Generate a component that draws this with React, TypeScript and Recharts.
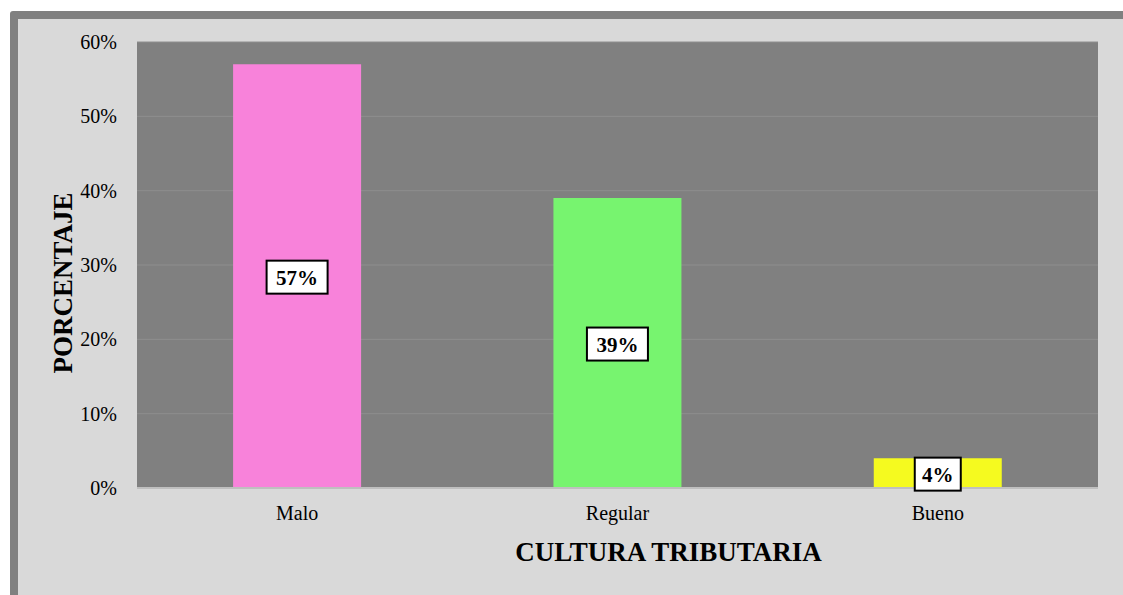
import { Bar, BarChart, CartesianGrid, Cell, LabelList, XAxis, YAxis, Label } from "recharts";

// Cultura tributaria: porcentaje por nivel
const categories = ["Malo", "Regular", "Bueno"];
const percentages = [57, 39, 4];
const barColors = ["#f882da", "#77f46f", "#f5fa1f"];
const yTicks = [0, 10, 20, 30, 40, 50, 60];

const data = categories.map((name, i) => ({ name, value: percentages[i] }));

const FONT = '"Liberation Serif", "Times New Roman", serif';

function BoxLabel(props: any) {
  const { x, y, width, height, value } = props;
  const cx = x + width / 2;
  const cy = y + height / 2;
  const text = `${value}%`;
  const w = value >= 10 ? 61 : 46;
  const h = 33;
  return (
    <g>
      <rect x={cx - w / 2} y={cy - h / 2 + 1} width={w} height={h} fill="#ffffff" stroke="#000" strokeWidth={2} />
      <text
        x={cx}
        y={cy + 2}
        textAnchor="middle"
        dominantBaseline="central"
        fontFamily={FONT}
        fontWeight="bold"
        fontSize={21}
        fill="#000"
      >
        {text}
      </text>
    </g>
  );
}

function XTitle(props: any) {
  const vb = props.viewBox;
  return (
    <text
      x={vb.x + vb.width / 2 + 51}
      y={561}
      textAnchor="middle"
      fontFamily={FONT}
      fontWeight="bold"
      fontSize={27}
      fill="#000"
    >
      CULTURA TRIBUTARIA
    </text>
  );
}

function YTitle(props: any) {
  const vb = props.viewBox;
  const x = 72;
  const y = vb.y + vb.height / 2 + 18;
  return (
    <text
      x={x}
      y={y}
      transform={`rotate(-90, ${x}, ${y})`}
      textAnchor="middle"
      fontFamily={FONT}
      fontWeight="bold"
      fontSize={27}
      fill="#000"
    >
      PORCENTAJE
    </text>
  );
}

export default function App() {
  return (
    <div style={{ position: "absolute", left: 0, top: 0, width: 1123, height: 595, background: "#fff", overflow: "hidden" }}>
      <div
        style={{
          position: "absolute",
          left: 10,
          top: 11,
          width: 1140,
          height: 620,
          background: "#d9d9d9",
          border: "8px solid #808080",
          borderRadius: 3,
        }}
      />
      <BarChart
        width={1123}
        height={595}
        data={data}
        margin={{ top: 42, right: 25, bottom: 0, left: 0 }}
        barCategoryGap="30%"
        style={{ position: "absolute", left: 0, top: 0, fontFamily: FONT }}
      >
        <CartesianGrid vertical={false} stroke="#8e8e8e" fill="#808080" />
        <XAxis
          dataKey="name"
          height={107}
          tickLine={false}
          axisLine={{ stroke: "#bfbfbf", strokeWidth: 2 }}
          tickSize={0}
          tickMargin={18}
          tick={{ fill: "#000", fontSize: 20, fontFamily: FONT }}
        >
          <Label content={XTitle} />
        </XAxis>
        <YAxis
          width={137}
          domain={[0, 60]}
          ticks={yTicks}
          tickFormatter={(v: number) => `${v}%`}
          tickLine={false}
          axisLine={false}
          tickSize={0}
          tickMargin={20}
          tick={{ fill: "#000", fontSize: 20, fontFamily: FONT }}
        >
          <Label content={YTitle} />
        </YAxis>
        <Bar dataKey="value" isAnimationActive={false}>
          {data.map((d, i) => (
            <Cell key={d.name} fill={barColors[i]} />
          ))}
          <LabelList dataKey="value" content={BoxLabel} />
        </Bar>
      </BarChart>
    </div>
  );
}
